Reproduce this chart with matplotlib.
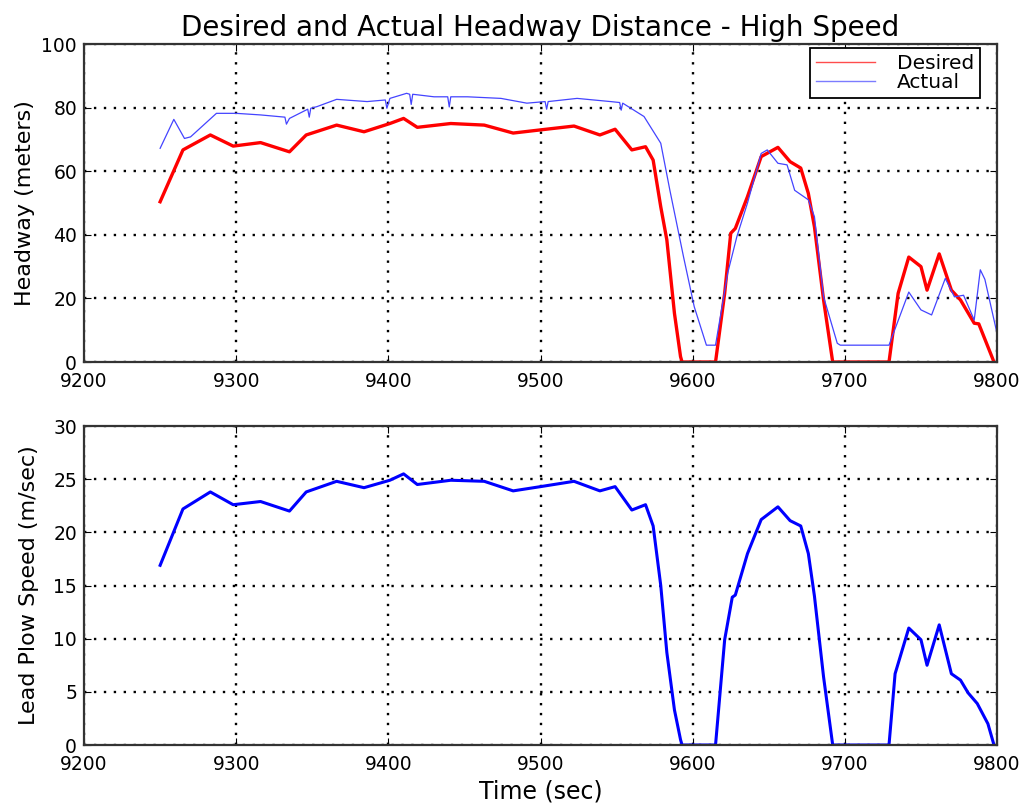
import matplotlib
matplotlib.use("Agg")
import matplotlib.pyplot as plt

# Desired headway (red)
t_des = [9250, 9265, 9283, 9298, 9316, 9335, 9346, 9366, 9384, 9401, 9410, 9419, 9441,
         9463, 9482, 9500, 9522, 9539, 9549, 9560, 9569, 9574, 9579, 9583, 9588, 9592,
         9593, 9615, 9621, 9625, 9628, 9636, 9645, 9656, 9664, 9671, 9676, 9680, 9686,
         9692, 9729, 9735, 9742, 9750, 9754, 9762, 9770, 9776, 9785, 9788, 9798]
desired = [50.4, 66.7, 71.4, 67.9, 69.0, 66.1, 71.4, 74.5, 72.4, 75.0, 76.6, 73.8, 75.0,
           74.5, 72.0, 73.0, 74.2, 71.4, 73.2, 66.7, 67.7, 63.5, 48.8, 38.4, 15.3, 1.7,
           0.0, 0.0, 21.6, 40.5, 42.0, 52.0, 64.6, 67.5, 63.0, 61.0, 53.0, 42.5, 19.5,
           0.0, 0.0, 21.6, 33.0, 30.0, 22.6, 34.0, 22.6, 19.5, 12.2, 12.0, 0.0]

# Actual headway (blue)
t_act = [9250, 9259, 9266, 9270, 9287, 9300, 9316, 9332, 9333, 9335, 9347, 9348, 9349,
         9353, 9366, 9386, 9398, 9399, 9401, 9412, 9414, 9415, 9416, 9430, 9439, 9440,
         9441, 9452, 9474, 9491, 9503, 9504, 9505, 9524, 9546, 9552, 9553, 9554, 9568,
         9579, 9585, 9594, 9601, 9609, 9615, 9623, 9629, 9636, 9645, 9649, 9656, 9662,
         9667, 9676, 9680, 9686, 9695, 9697, 9729, 9742, 9750, 9757, 9766, 9772, 9778,
         9785, 9789, 9792, 9800]
actual = [67.2, 76.3, 70.3, 70.8, 78.2, 78.2, 77.7, 77.0, 74.8, 76.6, 79.5, 77.0, 79.8,
          80.3, 82.6, 81.9, 82.4, 79.8, 82.9, 84.5, 84.2, 81.0, 84.2, 83.4, 83.4, 80.2,
          83.4, 83.4, 82.9, 81.4, 81.9, 79.5, 81.9, 82.9, 81.9, 81.6, 79.2, 81.4, 77.2,
          68.8, 54.0, 33.0, 17.4, 5.3, 5.3, 28.0, 39.4, 50.0, 65.6, 66.7, 62.5, 62.0,
          54.0, 51.0, 45.7, 20.5, 5.9, 5.3, 5.3, 22.0, 16.4, 14.8, 26.3, 20.5, 21.0,
          13.2, 29.0, 26.0, 9.0]

# Lead plow speed (blue)
t_spd = [9250, 9265, 9283, 9298, 9316, 9335, 9346, 9366, 9384, 9401, 9410, 9419, 9441,
         9463, 9482, 9500, 9522, 9539, 9549, 9560, 9569, 9574, 9579, 9583, 9588, 9592,
         9593, 9615, 9621, 9626, 9628, 9636, 9645, 9656, 9664, 9671, 9676, 9680, 9686,
         9692, 9729, 9733, 9742, 9750, 9754, 9762, 9770, 9776, 9781, 9787, 9794, 9798]
speed = [16.9, 22.2, 23.8, 22.6, 22.9, 22.0, 23.8, 24.8, 24.2, 24.9, 25.5, 24.5, 24.9,
         24.8, 23.9, 24.3, 24.8, 23.9, 24.3, 22.1, 22.6, 20.6, 15.0, 8.7, 3.3, 0.5,
         0.0, 0.0, 9.9, 13.9, 14.1, 18.0, 21.2, 22.4, 21.1, 20.6, 18.0, 14.0, 6.4,
         0.0, 0.0, 6.7, 11.0, 9.9, 7.5, 11.3, 6.7, 6.1, 4.9, 3.9, 2.0, 0.0]

x_ticks = [9200, 9300, 9400, 9500, 9600, 9700, 9800]
head_ticks = [0, 20, 40, 60, 80, 100]
speed_ticks = [0, 5, 10, 15, 20, 25, 30]

plt.rcParams['font.family'] = ['DejaVu Sans']
fig = plt.figure(figsize=(10.30, 8.09), dpi=100)
ax1 = fig.add_axes([0.0816, 0.5525, 0.8864, 0.3931])
ax2 = fig.add_axes([0.0816, 0.0791, 0.8864, 0.3943])

ax1.plot(t_des, desired, color='red', lw=2.4, label='Desired')
ax1.plot(t_act, actual, color='#4444ff', lw=0.9, label='Actual')
ax2.plot(t_spd, speed, color='blue', lw=2.2)

for ax, yt in ((ax1, head_ticks), (ax2, speed_ticks)):
    ax.set_xlim(9200, 9800)
    ax.set_ylim(yt[0], yt[-1])
    ax.set_xticks(x_ticks)
    ax.set_yticks(yt)
    ax.grid(True, color='black', linestyle=(0, (1, 3.2)), linewidth=1.7)
    ax.tick_params(direction='in', top=True, right=True, labelsize=13.5, length=5)
    ax.tick_params(axis='x', pad=7)
    ax.tick_params(axis='y', pad=5)
    for s in ax.spines.values():
        s.set_linewidth(1.6)
        s.set_color('#333333')

ax1.set_title('Desired and Actual Headway Distance - High Speed', fontsize=20, pad=6)
ax1.set_ylabel('Headway (meters)', fontsize=16, labelpad=5)
ax2.set_ylabel('Lead Plow Speed (m/sec)', fontsize=16, labelpad=10)
ax2.set_xlabel('Time (sec)', fontsize=17, labelpad=4)

leg = ax1.legend(loc='upper right', fontsize=14.5, frameon=True, fancybox=False,
                 handlelength=2.9, borderpad=0.3, labelspacing=0.0, handletextpad=1.1,
                 borderaxespad=0.0, bbox_to_anchor=(0.9815, 0.987), framealpha=1.0)
leg.get_frame().set_edgecolor('black')
leg.get_frame().set_linewidth(1.3)
for l in leg.get_lines():
    l.set_linewidth(1.0)
    l.set_alpha(0.7)

fig.savefig('out.png', dpi=100)
